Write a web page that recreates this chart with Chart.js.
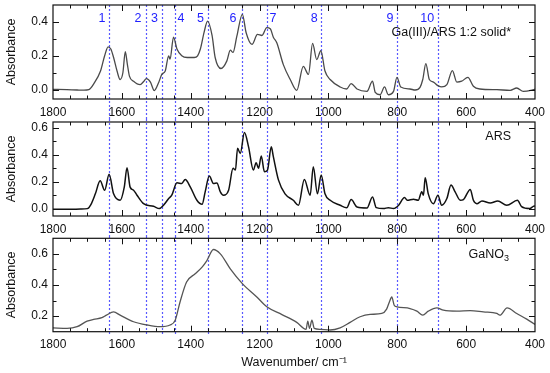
<!DOCTYPE html>
<html><head><meta charset="utf-8">
<script src="https://cdn.jsdelivr.net/npm/chart.js@4"></script>
<style>
body{margin:0;background:#fff;}
#wrap{position:relative;width:550px;height:373px;background:#fff;}
canvas{position:absolute;left:0;}
</style>
</head><body>
<div id="wrap">
<canvas id="c1" width="550" height="119" style="top:0px"></canvas>
<canvas id="c2" width="550" height="117" style="top:119px"></canvas>
<canvas id="c3" width="550" height="137" style="top:236px"></canvas>
</div>
<script>
// ---------- data ----------
const xTicks = [1800, 1600, 1400, 1200, 1000, 800, 600, 400];
const yTicksTop = [0.0, 0.2, 0.4];
const yTicksMid = [0.0, 0.2, 0.4, 0.6];
const yTicksBot = [0.2, 0.4, 0.6];

const bandCenters = [1638, 1529, 1484, 1447, 1351, 1250, 1179, 1022, 800, 682];
const bandLabels = ['1', '2', '3', '4', '5', '6', '7', '8', '9', '10'];
const bandLabelAt = [1658, 1553, 1505, 1428, 1372, 1277, 1161, 1041, 821, 713];

const gaArsWn = [1800,1760,1730,1710,1696,1680,1662,1650,1640,1632,1624,1614,1605,1597,1590,1584,1578,1566,1547,1536,1529,1517,1506,1493,1484,1474,1464,1460,1450,1440,1426,1410,1390,1380,1372,1361,1351,1338,1329,1312,1295,1285,1277,1266,1250,1239,1222,1206,1193,1179,1169,1160,1150,1131,1111,1092,1073,1058,1046,1034,1022,1010,995,966,947,934,917,888,872,864,850,837,826,811,801,790,763,748,734,726,717,707,695,682,671,656,640,627,613,595,579,560,511,472,453,434,405,400];
const gaArsAbs = [0.002,0.0,-0.002,-0.003,0.0,0.04,0.11,0.2,0.253,0.24,0.19,0.11,0.06,0.1,0.224,0.15,0.08,0.05,0.03,0.05,0.065,0.045,-0.005,0.043,0.09,0.11,0.2,0.18,0.31,0.24,0.2,0.19,0.19,0.2,0.24,0.34,0.405,0.32,0.19,0.125,0.17,0.233,0.22,0.316,0.445,0.336,0.267,0.326,0.32,0.366,0.36,0.31,0.277,0.148,0.06,-0.004,0.138,0.09,0.273,0.178,0.23,0.11,0.06,0.016,0.004,0.036,0.004,-0.01,0.05,-0.016,-0.03,0.016,-0.03,-0.01,0.073,0.016,0.004,-0.002,0.014,0.06,0.154,0.06,0.045,0.024,0.016,0.03,0.113,0.045,0.05,0.073,0.02,0.004,0.0,-0.004,0.01,-0.01,0.0,0.003];

const arsWn = [1800,1750,1720,1700,1690,1677,1663,1650,1637,1624,1605,1593,1585,1576,1566,1556,1537,1508,1491,1479,1464,1455,1440,1426,1416,1401,1382,1367,1358,1346,1334,1324,1314,1305,1290,1277,1270,1264,1256,1244,1232,1218,1210,1203,1195,1186,1177,1166,1160,1145,1126,1102,1087,1070,1053,1044,1032,1021,1010,995,966,947,934,917,888,872,861,840,826,811,796,779,771,753,739,729,724,719,710,695,682,671,656,644,632,617,608,588,579,569,554,530,508,482,451,439,415,405,400];
const arsAbs = [-0.005,-0.005,-0.003,0.0,0.03,0.11,0.207,0.137,0.255,0.11,0.062,0.16,0.305,0.16,0.137,0.1,0.037,0.017,0.0,0.025,0.075,0.1,0.192,0.187,0.217,0.16,0.062,0.032,0.125,0.242,0.187,0.19,0.125,0.1,0.137,0.3,0.287,0.45,0.41,0.567,0.46,0.287,0.342,0.3,0.392,0.275,0.287,0.46,0.387,0.212,0.11,0.062,0.025,0.217,0.1,0.312,0.11,0.25,0.11,0.062,0.025,0.007,0.067,0.012,0.005,0.087,0.007,0.0,0.007,0.0,0.025,0.082,0.062,0.07,0.062,0.125,0.1,0.23,0.11,0.037,0.1,0.025,0.075,0.175,0.125,0.062,0.067,0.142,0.062,0.037,0.057,0.042,0.057,0.025,0.062,0.015,0.0,0.017,0.02];

const ganoWn = [1800,1759,1730,1701,1682,1658,1645,1624,1605,1566,1527,1489,1460,1445,1431,1412,1387,1367,1353,1334,1314,1285,1250,1208,1179,1135,1092,1065,1060,1055,1048,1041,1024,995,966,937,908,879,845,831,823,816,809,801,763,743,726,710,685,666,627,588,550,511,502,481,453,424,400];
const ganoAbs = [0.125,0.121,0.132,0.168,0.179,0.19,0.206,0.227,0.206,0.164,0.143,0.132,0.143,0.174,0.291,0.419,0.472,0.515,0.557,0.628,0.6,0.504,0.409,0.323,0.26,0.21,0.16,0.115,0.168,0.121,0.174,0.121,0.115,0.111,0.125,0.16,0.196,0.211,0.217,0.245,0.291,0.323,0.27,0.26,0.249,0.232,0.206,0.232,0.253,0.238,0.232,0.236,0.227,0.217,0.206,0.253,0.217,0.181,0.147];

// ---------- drawing ----------
const FONT = '"Liberation Sans", Arial, Helvetica, sans-serif';
const BLUE_LINE = 'rgba(60,60,255,0.85)';
const BLUE_TEXT = '#1f1fff';

function overlay(cfg) {
  return {
    id: 'overlay_' + cfg.id,
    beforeDatasetsDraw(chart) {
      const {ctx, chartArea: a, scales: {x}} = chart;
      ctx.save();
      ctx.strokeStyle = BLUE_LINE;
      ctx.lineWidth = 1.2;
      ctx.setLineDash([2, 2]);
      const top = cfg.lineTop === 'area' ? a.top : 0;
      const bot = cfg.lineBottom === 'area' ? a.bottom + 3 : chart.height;
      bandCenters.forEach(w => {
        const px = Math.round(x.getPixelForValue(w)) + 0.5;
        ctx.beginPath(); ctx.moveTo(px, top); ctx.lineTo(px, bot); ctx.stroke();
      });
      ctx.restore();
    },
    afterDraw(chart) {
      const {ctx, chartArea: a, scales: {x, y}} = chart;
      ctx.save();
      ctx.strokeStyle = '#111';
      ctx.lineWidth = 1.2;
      ctx.setLineDash([]);
      ctx.strokeRect(a.left, a.top, a.right - a.left, a.bottom - a.top);
      // x ticks (inward, top and bottom)
      ctx.lineWidth = 1;
      for (let w = 450; w < 1800; w += 50) {
        const px = Math.round(x.getPixelForValue(w)) + 0.5;
        const len = (w % 200 === 0) ? 6 : 3.5;
        ctx.beginPath();
        ctx.moveTo(px, a.bottom); ctx.lineTo(px, a.bottom - len);
        ctx.moveTo(px, a.top); ctx.lineTo(px, a.top + len);
        ctx.stroke();
      }
      // y ticks (inward, left and right)
      const start = Math.ceil(cfg.yMin * 10 - 1e-6);
      const end = Math.floor(cfg.yMax * 10 + 1e-6);
      for (let k = start; k <= end; k++) {
        const v = k / 10;
        const py = Math.round(y.getPixelForValue(v)) + 0.5;
        if (py <= a.top + 1 || py >= a.bottom - 1) continue;
        const len = (k % 2 === 0) ? 6 : 3.5;
        ctx.beginPath();
        ctx.moveTo(a.left, py); ctx.lineTo(a.left + len, py);
        ctx.moveTo(a.right, py); ctx.lineTo(a.right - len, py);
        ctx.stroke();
      }
      // band numbers
      if (cfg.numbers) {
        ctx.fillStyle = BLUE_TEXT;
        ctx.font = '12.5px ' + FONT;
        ctx.textAlign = 'center';
        ctx.textBaseline = 'middle';
        bandLabels.forEach((t, i) => {
          ctx.fillText(t, x.getPixelForValue(bandLabelAt[i]), a.top + 14);
        });
      }
      // sample label
      ctx.fillStyle = '#111';
      ctx.textBaseline = 'middle';
      if (cfg.sub) {
        ctx.font = '12.5px ' + FONT;
        const subFont = '9px ' + FONT;
        ctx.font = subFont;
        const sw = ctx.measureText(cfg.sub).width;
        const rx = a.right - 26;
        ctx.textAlign = 'right';
        ctx.fillText(cfg.sub, rx, a.top + cfg.labelDy + 4);
        ctx.font = '12.5px ' + FONT;
        ctx.fillText(cfg.label, rx - sw, a.top + cfg.labelDy);
      } else {
        ctx.font = '12.5px ' + FONT;
        ctx.textAlign = 'right';
        ctx.fillText(cfg.label, a.right - 24, a.top + cfg.labelDy);
      }
      ctx.restore();
    }
  };
}

function makeChart(cfg) {
  return new Chart(document.getElementById(cfg.id), {
    type: 'line',
    data: {
      datasets: [{
        data: cfg.wn.map((w, i) => ({x: w, y: cfg.abs[i]})),
        borderColor: cfg.color,
        borderWidth: cfg.width,
        pointRadius: 0,
        cubicInterpolationMode: 'monotone',
        fill: false
      }]
    },
    options: {
      responsive: false,
      animation: false,
      devicePixelRatio: 1,
      layout: {padding: {left: 0, right: 15, top: cfg.padTop, bottom: 0}},
      plugins: {legend: {display: false}, tooltip: {enabled: false}},
      scales: {
        x: {
          type: 'linear', reverse: true, min: 400, max: 1800,
          grid: {display: false, drawTicks: false},
          border: {display: false},
          afterBuildTicks: s => { s.ticks = xTicks.map(v => ({value: v})); },
          ticks: {color: '#111', font: {family: FONT, size: 12}, padding: 6, maxRotation: 0, autoSkip: false,
                  callback: v => String(v)},
          afterFit: s => { s.height = cfg.xHeight; s.paddingLeft = 0; s.paddingRight = 0; },
          title: cfg.xTitle ? {display: true, text: 'Wavenumber/ cm⁻¹', color: '#111',
                  font: {family: FONT, size: 12.5}, padding: {top: 4, bottom: 3}} : {display: false}
        },
        y: {
          min: cfg.yMin, max: cfg.yMax,
          grid: {display: false, drawTicks: false},
          border: {display: false},
          afterBuildTicks: s => { s.ticks = cfg.yTicks.map(v => ({value: v})); },
          ticks: {color: '#111', font: {family: FONT, size: 12}, padding: 5, callback: v => Number(v).toFixed(1)},
          afterFit: s => { s.width = 53; s.paddingTop = 0; s.paddingBottom = 0; },
          title: {display: true, text: 'Absorbance', color: '#111', font: {family: FONT, size: 12.5}, padding: {top: 4, bottom: 4}}
        }
      }
    },
    plugins: [overlay(cfg)]
  });
}

makeChart({id: 'c1', wn: gaArsWn, abs: gaArsAbs, yMin: -0.055, yMax: 0.5, yTicks: yTicksTop,
  color: '#4a4a4a', width: 1.3, padTop: 5, xHeight: 20, xTitle: false,
  lineTop: 'area', lineBottom: 'canvas', numbers: true, label: 'Ga(III)/ARS 1:2 solid*', labelDy: 28});
makeChart({id: 'c2', wn: arsWn, abs: arsAbs, yMin: -0.055, yMax: 0.645, yTicks: yTicksMid,
  color: '#111', width: 1.5, padTop: 3, xHeight: 20, xTitle: false,
  lineTop: 'canvas', lineBottom: 'canvas', numbers: false, label: 'ARS', labelDy: 15});
makeChart({id: 'c3', wn: ganoWn, abs: ganoAbs, yMin: 0.1, yMax: 0.7, yTicks: yTicksBot,
  color: '#555', width: 1.3, padTop: 2.3, xHeight: 41.3, xTitle: true,
  lineTop: 'canvas', lineBottom: 'area', numbers: false, label: 'GaNO', sub: '3', labelDy: 16});
</script>
</body></html>
